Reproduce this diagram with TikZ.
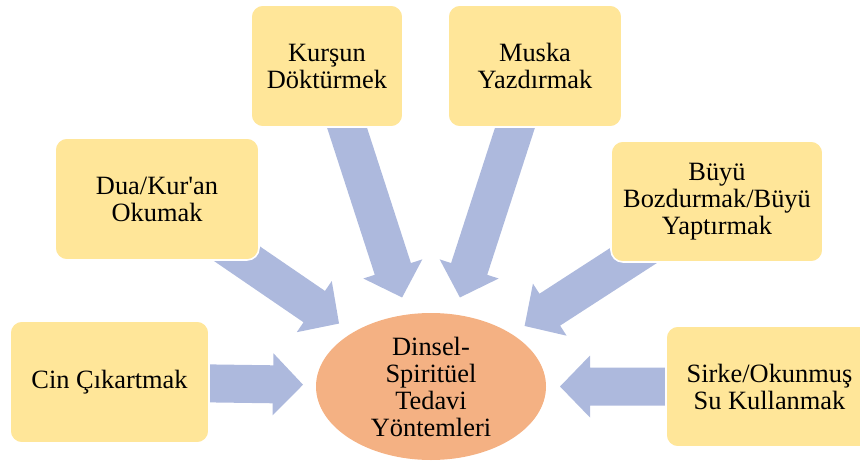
\documentclass[tikz,border=0pt]{standalone}
\usepackage{fontspec}
\setmainfont{Liberation Serif}
\usetikzlibrary{calc,shapes.geometric,backgrounds}
\definecolor{boxfill}{RGB}{255,230,153}
\definecolor{arrowfill}{RGB}{173,185,221}
\definecolor{hubfill}{RGB}{244,177,131}
\tikzset{
  methodbox/.style={rectangle, rounded corners=9pt, fill=boxfill, draw=white,
    line width=1.2pt, align=center, inner sep=0pt, minimum height=91.5pt},
  hub/.style={ellipse, fill=hubfill, align=center, inner sep=0pt,
    minimum width=172.5pt, minimum height=110.25pt},
  flowarrow/.style={fill=arrowfill},
  every node/.style={font=\fontsize{19.8pt}{20.25pt}\selectfont}
}
% Block arrow from the centre of node #1 towards the hub, tip #2 away from the hub centre
\newcommand\blockarrow[2]{%
  \coordinate (ba-t) at ($(ell.center)!#2!(#1.center)$);
  \coordinate (ba-m) at ($(ba-t)!22.5pt!(#1.center)$);
  \fill[flowarrow] ($(#1.center)!14.25pt!90:(ba-t)$) -- ($(ba-m)!14.25pt!90:(ba-t)$)
    -- ($(ba-m)!23.25pt!90:(ba-t)$) -- (ba-t) -- ($(ba-m)!23.25pt!-90:(ba-t)$)
    -- ($(ba-m)!14.25pt!-90:(ba-t)$) -- ($(#1.center)!14.25pt!-90:(ba-t)$) -- cycle;
}
\begin{document}
\begin{tikzpicture}[x=0.75pt,y=-0.75pt]
  \useasboundingbox (0,0) rectangle (860,464);
  \clip (0,0) rectangle (860,464);

  \node[hub] (ell) at (431,386.5) {Dinsel-\\Spiritüel\\Tedavi\\Yöntemleri};

  \node[methodbox, minimum width=149.25pt] (cin) at (109.5,382) {Cin Çıkartmak};
  \node[methodbox, minimum width=153pt] (dua) at (157,199) {Dua/Kur\textquotesingle an\\Okumak};
  \node[methodbox, minimum width=114pt] (kur) at (327,66) {Kurşun\\Döktürmek};
  \node[methodbox, minimum width=130.5pt] (mus) at (535,66) {Muska\\Yazdırmak};
  \node[methodbox, minimum width=159pt, minimum height=90.75pt] (buy) at (717,201.5) {Büyü\\Bozdurmak/Büyü\\Yaptırmak};
  \node[methodbox, minimum width=155.25pt, minimum height=90.75pt] (sir) at (769.5,386.5) {Sirke/Okunmuş\\Su Kullanmak};

  \begin{pgfonlayer}{background}
    \blockarrow{cin}{96pt}
    \blockarrow{dua}{83.6pt}
    \blockarrow{kur}{70.2pt}
    \blockarrow{mus}{70.2pt}
    \blockarrow{buy}{83.6pt}
    \blockarrow{sir}{96.75pt}
  \end{pgfonlayer}
\end{tikzpicture}
\end{document}
